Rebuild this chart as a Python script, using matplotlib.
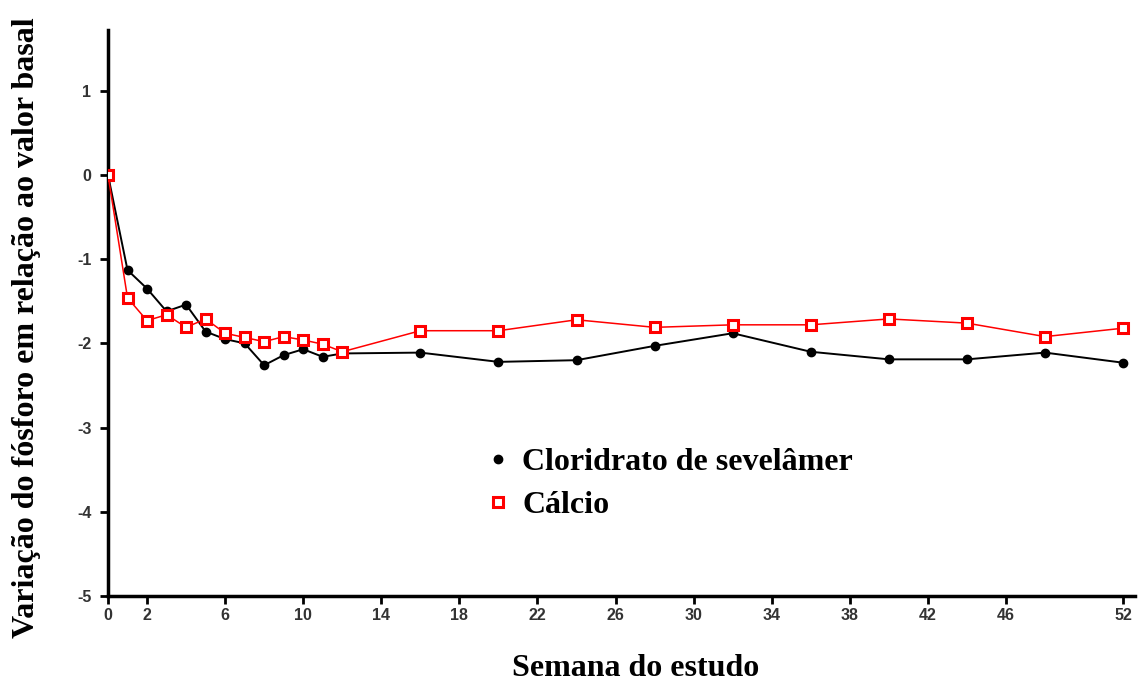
import matplotlib
matplotlib.use("Agg")
import matplotlib.pyplot as plt
from matplotlib.lines import Line2D

plt.rcParams['axes.unicode_minus'] = False

weeks = [0, 1, 2, 3, 4, 5, 6, 7, 8, 9, 10, 11, 12, 16, 20, 24, 28, 32, 36, 40, 44, 48, 52]
sevelamer = [0, -1.13, -1.35, -1.62, -1.54, -1.86, -1.95, -2.0, -2.26, -2.14, -2.07, -2.16, -2.12,
             -2.11, -2.22, -2.2, -2.03, -1.88, -2.1, -2.19, -2.19, -2.11, -2.23]
calcio = [0, -1.46, -1.73, -1.66, -1.81, -1.71, -1.88, -1.93, -1.98, -1.92, -1.96, -2.01, -2.1,
          -1.85, -1.85, -1.72, -1.81, -1.78, -1.78, -1.71, -1.76, -1.92, -1.82]
xticks = [0, 2, 6, 10, 14, 18, 22, 26, 30, 34, 38, 42, 46, 52]
yticks = [-5, -4, -3, -2, -1, 0, 1]

fig = plt.figure(figsize=(11.44, 6.84), dpi=100)
ax = fig.add_axes([0.0944, 0.1287, 0.8976, 0.8273])

ax.plot(weeks, sevelamer, color='black', lw=1.4, marker='o', ms=6, zorder=3)
ax.plot(weeks, calcio, color='red', lw=1.1, marker='s', ms=7.8, mfc='white',
        mec='red', mew=2.2, zorder=4)

ax.set_xlim(0, 52.6)
ax.set_ylim(-5, 1.72)
ax.set_xticks(xticks)
ax.set_yticks(yticks)
for s in ['top', 'right']:
    ax.spines[s].set_visible(False)
for s in ['left', 'bottom']:
    ax.spines[s].set_linewidth(2.5)
ax.tick_params(direction='out', length=6, width=2, labelsize=11.5, labelcolor='#333333', pad=3)
ax.tick_params(axis='y', pad=6)
for lab in ax.get_xticklabels() + ax.get_yticklabels():
    lab.set_fontfamily('Liberation Sans')
    lab.set_fontweight('bold')

serif = {'family': 'Liberation Serif', 'weight': 'bold', 'size': 23}
fig.text(636 / 1144, 1 - 669 / 684, 'Semana do estudo', ha='center', va='center', **serif)
fig.text(27 / 1144, 1 - 328 / 684, 'Variação do fósforo em relação ao valor basal',
         rotation=90, ha='center', va='center', **serif)

handles = [Line2D([], [], ls='none', color='black', marker='o', ms=6),
           Line2D([], [], ls='none', color='red', marker='s', ms=7.8, mfc='white', mew=2.2)]
ax.legend(handles, ['Cloridrato de sevelâmer', 'Cálcio'], loc='upper left',
          bbox_to_anchor=(0.355, 0.284), frameon=False,
          prop={'family': 'Liberation Serif', 'weight': 'bold', 'size': 23},
          handlelength=0.8, handletextpad=0.35, labelspacing=0.42, borderaxespad=0)

fig.savefig('out.png', dpi=100)
